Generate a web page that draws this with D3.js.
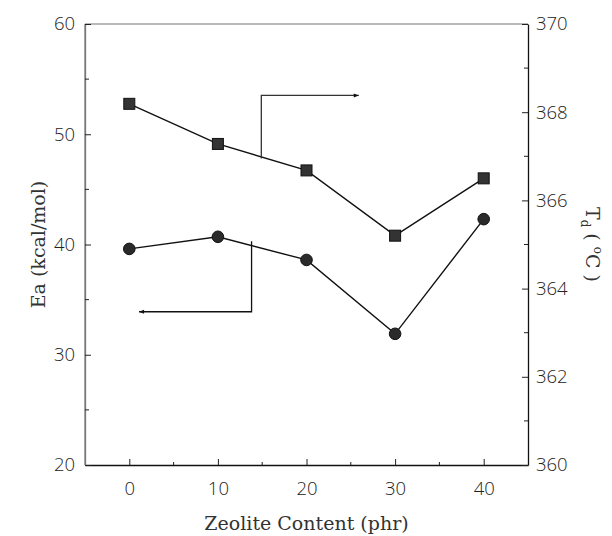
<!DOCTYPE html>
<html><head><meta charset="utf-8">
<script src="https://cdn.jsdelivr.net/npm/d3@7/dist/d3.min.js"></script>
<style>body{margin:0;background:#fff}svg{display:block}</style>
</head><body>
<script>
const zeolite = [0, 10, 20, 30, 40];
const eaValues = [39.6, 40.7, 38.6, 31.9, 42.3];
const tdValues = [368.19, 367.28, 366.68, 365.2, 366.5];
const xTicks = [0, 10, 20, 30, 40];
const leftTicks = [20, 30, 40, 50, 60];
const rightTicks = [360, 362, 364, 366, 368, 370];

const W = 612, H = 536;
const m = {l: 85, r: 84, t: 24, b: 71};
const svg = d3.select("body").append("svg").attr("width", W).attr("height", H);
const x = d3.scaleLinear().domain([-5, 45]).range([m.l, W - m.r]);
const yL = d3.scaleLinear().domain([20, 60]).range([H - m.b, m.t]);
const yR = d3.scaleLinear().domain([360, 370]).range([H - m.b, m.t]);
const tickFont = "'Open Sans', 'DejaVu Sans', sans-serif";
const serif = "'DejaVu Serif', 'Liberation Serif', serif";

// frame
svg.append("line").attr("x1", x(-5)).attr("x2", x(45)).attr("y1", m.t).attr("y2", m.t).attr("stroke", "#777").attr("stroke-width", 1.2);
svg.append("line").attr("x1", x(-5)).attr("x2", x(-5)).attr("y1", m.t).attr("y2", H - m.b).attr("stroke", "#777").attr("stroke-width", 1.2);

function styleAxis(g, color) {
  g.selectAll(".domain").attr("stroke", color).attr("stroke-width", 1.3);
  g.selectAll(".tick line").attr("stroke", "#222");
  g.selectAll("text").attr("font-family", tickFont).attr("font-weight", 300).attr("font-size", 18.5).attr("fill", "#222");
}

// bottom axis
const gx = svg.append("g").attr("transform", `translate(0,${H - m.b})`)
  .call(d3.axisBottom(x).tickValues(xTicks).tickSizeInner(-6).tickSizeOuter(0).tickPadding(17));
styleAxis(gx, "#111");
svg.append("g").selectAll("line").data(d3.range(5, 45, 10)).join("line")
  .attr("x1", d => x(d)).attr("x2", d => x(d)).attr("y1", H - m.b).attr("y2", H - m.b - 3).attr("stroke", "#222");

// left axis
const gl = svg.append("g").attr("transform", `translate(${m.l},0)`)
  .call(d3.axisLeft(yL).tickValues(leftTicks).tickSizeInner(-6).tickSizeOuter(0).tickPadding(10));
styleAxis(gl, "#777");
svg.append("g").selectAll("line").data(d3.range(25, 60, 10)).join("line")
  .attr("x1", m.l).attr("x2", m.l + 4).attr("y1", d => yL(d)).attr("y2", d => yL(d)).attr("stroke", "#222");

// right axis
const gr = svg.append("g").attr("transform", `translate(${W - m.r},0)`)
  .call(d3.axisRight(yR).tickValues(rightTicks).tickSizeInner(-6).tickSizeOuter(0).tickPadding(8));
styleAxis(gr, "#111");
svg.append("g").selectAll("line").data(d3.range(361, 370, 2)).join("line")
  .attr("x1", W - m.r).attr("x2", W - m.r - 4).attr("y1", d => yR(d)).attr("y2", d => yR(d)).attr("stroke", "#222");

// lines
const lineEa = d3.line().x((d, i) => x(zeolite[i])).y(d => yL(d));
const lineTd = d3.line().x((d, i) => x(zeolite[i])).y(d => yR(d));
svg.append("path").attr("d", lineEa(eaValues)).attr("fill", "none").attr("stroke", "#111").attr("stroke-width", 1.4);
svg.append("path").attr("d", lineTd(tdValues)).attr("fill", "none").attr("stroke", "#111").attr("stroke-width", 1.4);

// markers
svg.append("g").selectAll("circle").data(eaValues).join("circle")
  .attr("cx", (d, i) => x(zeolite[i])).attr("cy", d => yL(d)).attr("r", 5.8)
  .attr("fill", "#2a2a2a").attr("stroke", "#111").attr("stroke-width", 1);
svg.append("g").selectAll("rect").data(tdValues).join("rect")
  .attr("x", (d, i) => x(zeolite[i]) - 5.5).attr("y", d => yR(d) - 5.5).attr("width", 11).attr("height", 11)
  .attr("fill", "#333").attr("stroke", "#111").attr("stroke-width", 1);

// arrows
const defs = svg.append("defs");
defs.append("marker").attr("id", "ah").attr("viewBox", "0 0 10 10").attr("refX", 10).attr("refY", 5)
  .attr("markerWidth", 8).attr("markerHeight", 5).attr("orient", "auto").attr("markerUnits", "userSpaceOnUse")
  .append("path").attr("d", "M0,1 L10,5 L0,9 Z").attr("fill", "#111");
// upper arrow (points right -> Td axis)
svg.append("path").attr("d", `M${x(14.9)},${yR(366.95)} V${yR(368.38)} H${x(25.9)}`)
  .attr("fill", "none").attr("stroke", "#333").attr("stroke-width", 1.3).attr("marker-end", "url(#ah)");
// lower arrow (points left -> Ea axis)
svg.append("path").attr("d", `M${x(13.8)},${yL(40.3)} V${yL(33.9)} H${x(1.1)}`)
  .attr("fill", "none").attr("stroke", "#111").attr("stroke-width", 1.3).attr("marker-end", "url(#ah)");

// axis titles
svg.append("text").attr("x", (x(-5) + x(45)) / 2).attr("y", 530).attr("text-anchor", "middle")
  .attr("font-family", serif).attr("font-size", 19).attr("fill", "#333").text("Zeolite Content (phr)");
svg.append("text").attr("transform", `translate(45,${(m.t + H - m.b) / 2}) rotate(-90)`).attr("text-anchor", "middle")
  .attr("font-family", serif).attr("font-size", 19).attr("fill", "#333").text("Ea (kcal/mol)");
const rt = svg.append("text").attr("transform", `translate(586,${(m.t + H - m.b) / 2}) rotate(90)`).attr("text-anchor", "middle")
  .attr("font-family", serif).attr("font-size", 19).attr("fill", "#333");
rt.append("tspan").text("T");
rt.append("tspan").attr("dy", 5).attr("font-size", 12).text("d");
rt.append("tspan").attr("dy", -5).text(" ( ");
rt.append("tspan").attr("dy", -8).attr("font-size", 12).text("o");
rt.append("tspan").attr("dy", 8).text("C )");
</script>
</body></html>
